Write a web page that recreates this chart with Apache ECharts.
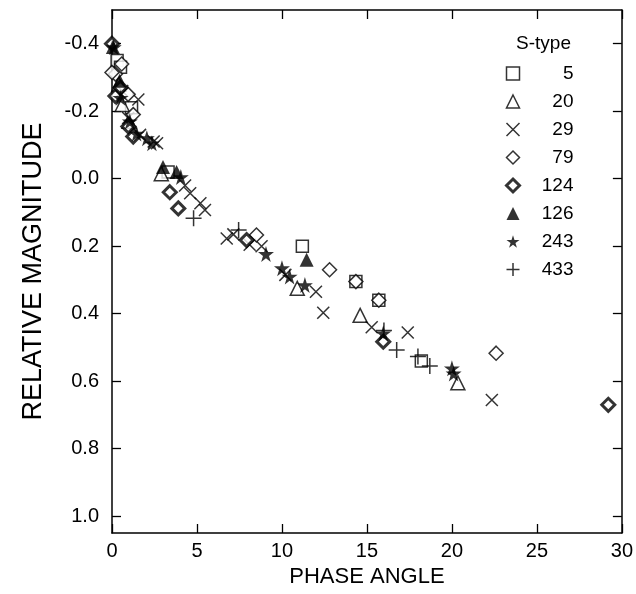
<!DOCTYPE html>
<html>
<head>
<meta charset="utf-8">
<script src="https://cdn.jsdelivr.net/npm/echarts@6/dist/echarts.min.js"></script>
<style>
  html, body { margin: 0; padding: 0; background: #fff; }
  #main { width: 636px; height: 594px; }
</style>
</head>
<body>
<div id="main"></div>
<script>
// phase angle (deg), relative magnitude
const s5 = [[0.3, -0.35], [0.5, -0.33], [1.15, -0.21], [3.3, -0.02], [11.2, 0.2], [14.35, 0.305], [15.7, 0.36], [18.2, 0.54]];
const s20 = [[0.4, -0.28], [0.6, -0.22], [1.0, -0.17], [2.9, -0.015], [10.9, 0.325], [14.6, 0.405], [20.35, 0.605]];
const s29 = [[0.6, -0.26], [1.55, -0.235], [0.95, -0.18], [1.65, -0.13], [2.45, -0.11], [2.65, -0.105], [4.3, 0.02],
  [4.6, 0.043], [5.2, 0.073], [5.47, 0.093], [6.75, 0.177], [7.14, 0.165], [8.1, 0.196], [8.8, 0.2], [10.2, 0.285],
  [12.0, 0.335], [12.43, 0.397], [15.28, 0.44], [17.4, 0.456], [22.35, 0.656]];
const s79 = [[0.57, -0.34], [0.2, -0.31], [0.0, -0.315], [0.95, -0.25], [1.25, -0.19], [8.5, 0.167], [12.8, 0.27],
  [14.35, 0.305], [15.7, 0.36], [22.6, 0.517]];
const s124 = [[0.0, -0.4], [0.2, -0.245], [0.5, -0.27], [0.96, -0.155], [1.25, -0.125], [3.4, 0.04], [3.9, 0.088],
  [7.92, 0.182], [15.96, 0.483], [29.2, 0.67]];
const s126 = [[0.05, -0.39], [0.45, -0.29], [3.0, -0.035], [3.8, -0.02], [11.45, 0.24]];
const s243 = [[0.1, -0.39], [0.5, -0.24], [1.05, -0.17], [1.45, -0.134], [2.05, -0.12], [2.35, -0.105], [4.05, -0.005],
  [9.06, 0.223], [10.0, 0.265], [10.45, 0.29], [11.35, 0.315], [15.96, 0.458], [20.0, 0.562], [20.1, 0.577]];
const s433 = [[4.8, 0.117], [7.45, 0.152], [16.0, 0.45], [16.75, 0.508], [18.0, 0.527], [18.7, 0.555]];

const xTicks = [0, 5, 10, 15, 20, 25, 30];
const yTicks = [-0.4, -0.2, 0.0, 0.2, 0.4, 0.6, 0.8, 1.0];

const FONT = "Liberation Sans";
const crossPath = "path://M0,0L10,10M10,0L0,10";
const plusPath = "path://M5,0L5,10M0,5L10,5";
const starPath = "path://M50,0L61,35L98,35L68,57L79,91L50,70L21,91L32,57L2,35L39,35Z";

const open = { color: "#fff", borderColor: "#000", borderWidth: 1.5 };
const line = { color: "rgba(0,0,0,0)", borderColor: "#000", borderWidth: 1.5 };
const solid = { color: "#000", borderColor: "#000", borderWidth: 0 };
const bold = { color: "#fff", borderColor: "#000", borderWidth: 3 };

const seriesDefs = [
  { name: "5", data: s5, symbol: "rect", size: 12, style: open },
  { name: "20", data: s20, symbol: "triangle", size: 14, style: open },
  { name: "29", data: s29, symbol: crossPath, size: 12, style: line },
  { name: "79", data: s79, symbol: "diamond", size: 14, style: open },
  { name: "124", data: s124, symbol: "diamond", size: 13, style: bold },
  { name: "126", data: s126, symbol: "triangle", size: 14, style: solid },
  { name: "243", data: s243, symbol: starPath, size: 16, style: solid },
  { name: "433", data: s433, symbol: plusPath, size: 16, style: line },
];

const chart = echarts.init(document.getElementById("main"));

const axisLine = { show: true, onZero: false, lineStyle: { color: "#000", width: 1.5 } };
const tick = { show: true, inside: true, length: 9, lineStyle: { color: "#000", width: 1.3 } };

chart.setOption({
  animation: false,
  textStyle: { fontFamily: FONT },
  grid: { left: 112, right: 14, top: 10, bottom: 61 },
  title: {
    text: "S-type",
    right: 60,
    top: 29,
    textStyle: { fontFamily: FONT, fontSize: 19, fontWeight: "normal", color: "#000" },
  },
  legend: {
    orient: "vertical",
    left: 500,
    top: 59,
    itemWidth: 13,
    itemHeight: 13,
    itemGap: 9,
    data: seriesDefs.map((s) => ({ name: s.name, itemStyle: s.style })),
    formatter: (name) => "{a|" + name + "}",
    textStyle: {
      fontFamily: FONT,
      fontSize: 19,
      color: "#000",
      rich: { a: { width: 49, align: "right", fontSize: 19, lineHeight: 19, fontFamily: FONT, color: "#000" } },
    },
  },
  xAxis: [
    {
      type: "value",
      min: 0,
      max: 30,
      interval: 5,
      name: "PHASE ANGLE",
      nameLocation: "middle",
      nameGap: 33,
      nameTextStyle: { fontFamily: FONT, fontSize: 22, color: "#000" },
      axisLine: axisLine,
      axisTick: tick,
      splitLine: { show: false },
      axisLabel: { color: "#000", fontSize: 20, margin: 8, customValues: xTicks },
    },
    {
      type: "value",
      position: "top",
      min: 0,
      max: 30,
      interval: 5,
      axisLine: axisLine,
      axisTick: tick,
      axisLabel: { show: false },
      splitLine: { show: false },
    },
  ],
  yAxis: [
    {
      type: "value",
      inverse: true,
      min: -0.5,
      max: 1.05,
      name: "RELATIVE MAGNITUDE",
      nameLocation: "middle",
      nameGap: 65,
      nameRotate: 90,
      nameTextStyle: { fontFamily: FONT, fontSize: 27, color: "#000" },
      axisLine: axisLine,
      axisTick: Object.assign({}, tick, { customValues: yTicks }),
      splitLine: { show: false },
      axisLabel: {
        color: "#000",
        fontSize: 20,
        margin: 13,
        customValues: yTicks,
        formatter: (v) => v.toFixed(1),
      },
    },
    {
      type: "value",
      inverse: true,
      position: "right",
      min: -0.5,
      max: 1.05,
      axisLine: axisLine,
      axisTick: Object.assign({}, tick, { customValues: yTicks }),
      axisLabel: { show: false },
      splitLine: { show: false },
    },
  ],
  series: seriesDefs.map((s) => ({
    name: s.name,
    type: "scatter",
    data: s.data,
    symbol: s.symbol,
    symbolSize: s.size,
    itemStyle: s.style,
    clip: false,
  })),
});
</script>
</body>
</html>
